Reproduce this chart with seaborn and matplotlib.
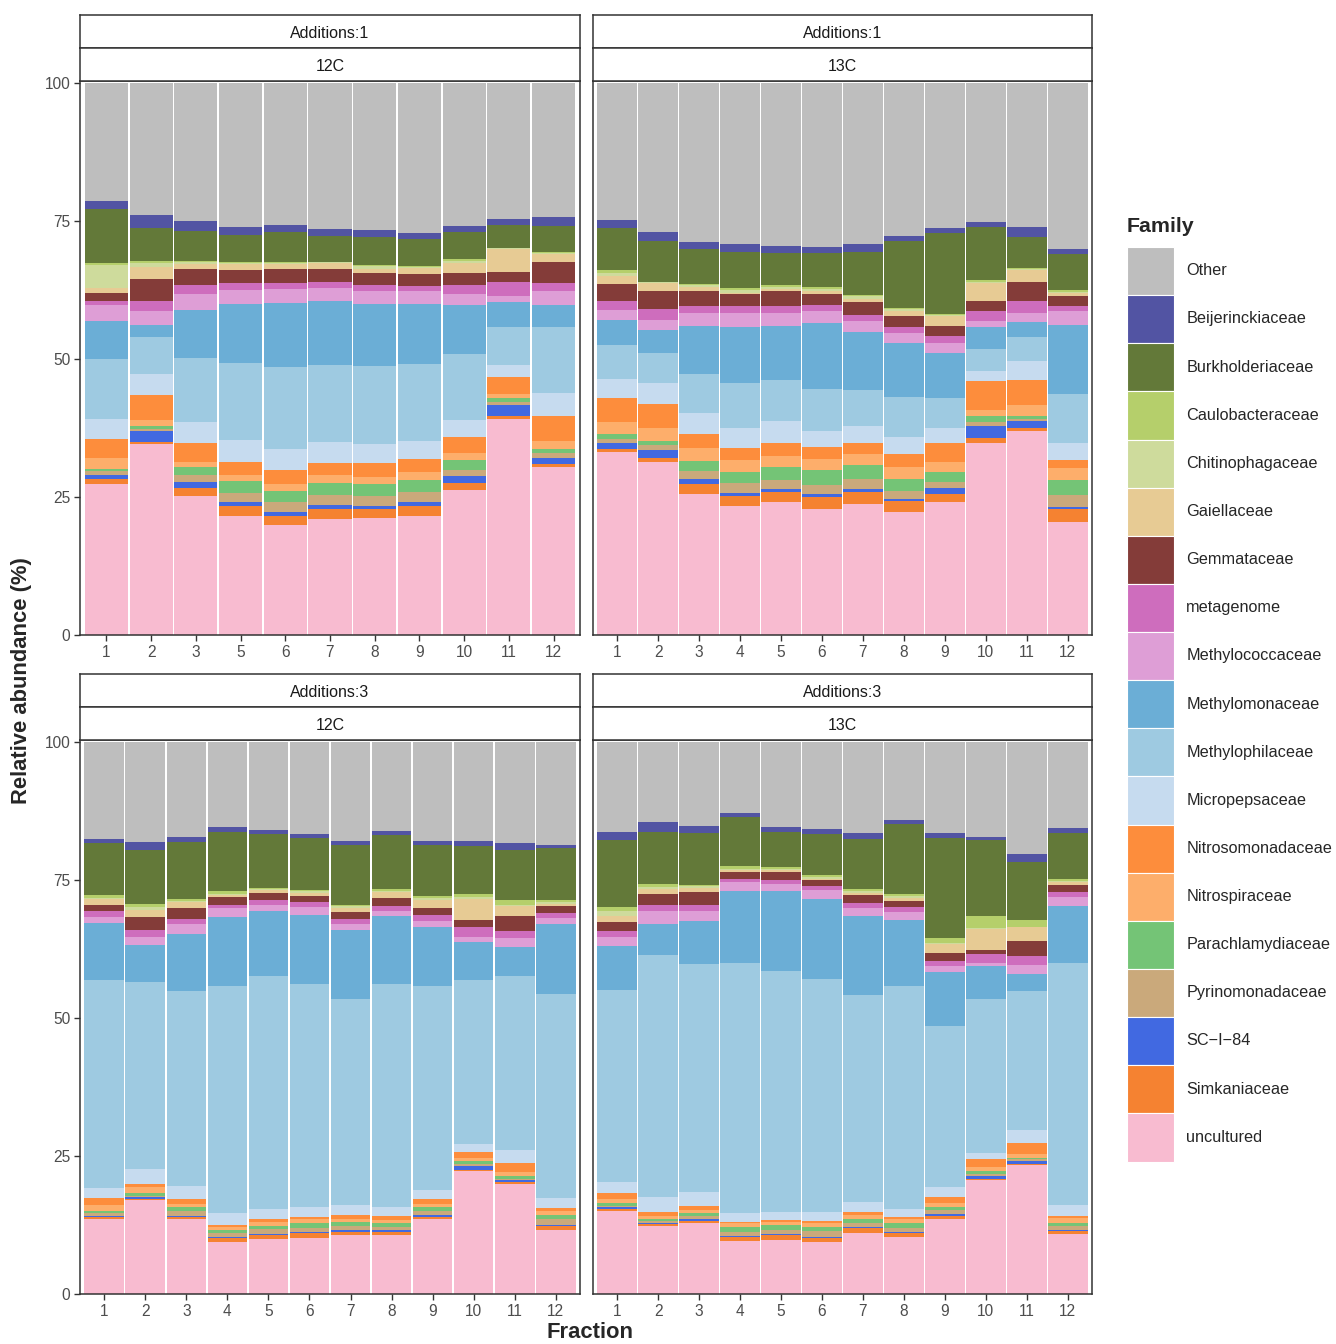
#%% libraries
import pandas as pd
import matplotlib
matplotlib.use("Agg")
import matplotlib.pyplot as plt
from matplotlib.patches import Patch
import seaborn as sns

#%% data
# stacking order, bottom of each bar first
family_order = ["uncultured", "Simkaniaceae", "SC−I−84", "Pyrinomonadaceae",
                "Parachlamydiaceae", "Nitrospiraceae", "Nitrosomonadaceae",
                "Micropepsaceae", "Methylophilaceae", "Methylomonaceae",
                "Methylococcaceae", "metagenome", "Gemmataceae", "Gaiellaceae",
                "Chitinophagaceae", "Caulobacteraceae", "Burkholderiaceae",
                "Beijerinckiaceae", "Other"]

family_colors = ["#F8BBD0", "#F58231", "#4169E1", "#CAA97B",
                 "#74C476", "#FDAE6B", "#FD8D3C",
                 "#C6DBEF", "#9ECAE1", "#6BAED6",
                 "#DE9ED6", "#CE6DBD", "#843C39", "#E7CB94",
                 "#CEDB9C", "#B5CF6B", "#637939",
                 "#5254A3", "#BEBEBE"]

# Additions:1 / 12C  (rows follow family_order)
a1_12c_fractions = [1, 2, 3, 5, 6, 7, 8, 9, 10, 11, 12]
a1_12c_values = [
    [27.3, 34.5, 25.1, 21.6, 19.9, 21.0, 21.1, 21.6, 26.3, 39.1, 30.4],
    [1.0, 0.4, 1.5, 1.8, 1.7, 1.8, 1.7, 1.8, 1.2, 0.6, 0.6],
    [0.7, 2.1, 1.1, 0.6, 0.7, 0.8, 0.6, 0.7, 1.2, 2.0, 1.1],
    [0.7, 0.3, 1.3, 1.7, 1.8, 1.7, 1.8, 1.7, 1.2, 0.5, 0.8],
    [0.4, 0.5, 1.4, 2.1, 2.0, 2.2, 2.1, 2.3, 1.7, 0.7, 0.7],
    [2.0, 1.1, 0.9, 1.2, 1.3, 1.4, 1.3, 1.4, 1.4, 0.8, 1.5],
    [3.4, 4.6, 3.4, 2.3, 2.4, 2.3, 2.6, 2.3, 2.9, 3.1, 4.5],
    [3.6, 3.8, 3.8, 4.0, 3.8, 3.8, 3.4, 3.3, 3.0, 2.1, 4.3],
    [10.8, 6.7, 11.7, 14.0, 15.0, 13.9, 14.1, 14.0, 12.0, 6.9, 11.8],
    [7.0, 2.2, 8.7, 10.6, 11.5, 11.5, 11.3, 10.9, 8.8, 4.5, 4.0],
    [2.9, 2.4, 2.8, 2.6, 2.6, 2.4, 2.3, 2.2, 2.0, 1.1, 2.6],
    [0.6, 1.8, 1.6, 1.2, 1.1, 1.1, 1.1, 1.0, 1.6, 2.5, 1.5],
    [1.5, 4.0, 2.9, 2.4, 2.4, 2.4, 2.2, 2.2, 2.3, 1.9, 3.7],
    [1.0, 2.3, 1.0, 1.0, 0.9, 1.0, 0.7, 1.0, 1.8, 4.0, 1.4],
    [4.1, 0.6, 0.4, 0.3, 0.3, 0.2, 0.5, 0.3, 0.4, 0.2, 0.2],
    [0.3, 0.5, 0.2, 0.1, 0.1, 0.1, 0.2, 0.1, 0.3, 0.1, 0.2],
    [9.8, 5.9, 5.4, 4.9, 5.4, 4.7, 5.0, 4.9, 4.8, 4.1, 4.7],
    [1.5, 2.3, 1.7, 1.5, 1.4, 1.2, 1.4, 1.1, 1.2, 1.1, 1.7],
    [21.4, 24.0, 25.1, 26.1, 25.7, 26.5, 26.6, 27.2, 25.9, 24.7, 24.3],
]

# Additions:1 / 13C
a1_13c_fractions = [1, 2, 3, 4, 5, 6, 7, 8, 9, 10, 11, 12]
a1_13c_values = [
    [33.1, 31.3, 25.5, 23.4, 24.0, 22.8, 23.8, 22.3, 24.0, 34.8, 37.0, 20.5],
    [0.6, 0.8, 1.8, 1.8, 1.9, 2.1, 2.0, 1.9, 1.5, 0.8, 0.4, 2.3],
    [1.1, 1.4, 0.9, 0.5, 0.6, 0.6, 0.6, 0.4, 1.2, 2.3, 1.4, 0.4],
    [0.6, 0.9, 1.5, 1.8, 1.6, 1.6, 1.8, 1.4, 1.0, 0.7, 0.3, 2.2],
    [0.9, 0.8, 1.8, 2.1, 2.3, 2.8, 2.5, 2.3, 1.9, 1.0, 0.6, 2.7],
    [2.3, 2.3, 2.3, 2.1, 2.0, 2.0, 2.1, 2.2, 1.7, 1.1, 1.9, 2.2],
    [4.3, 4.4, 2.6, 2.1, 2.4, 2.2, 2.0, 2.2, 3.4, 5.2, 4.6, 1.4],
    [3.4, 3.8, 3.8, 3.6, 4.0, 2.9, 3.1, 3.2, 2.7, 1.9, 3.4, 3.1],
    [6.2, 5.4, 7.1, 8.3, 7.4, 7.6, 6.4, 7.2, 5.5, 3.9, 4.3, 8.9],
    [4.6, 4.2, 8.6, 10.1, 9.7, 11.9, 10.5, 9.7, 8.1, 4.0, 2.7, 12.5],
    [1.7, 1.8, 2.4, 2.5, 2.4, 2.1, 2.0, 1.8, 1.8, 1.1, 1.7, 2.4],
    [1.7, 2.0, 1.3, 1.2, 1.3, 1.1, 1.2, 1.1, 1.3, 1.9, 2.2, 1.0],
    [3.1, 3.1, 2.6, 2.2, 2.6, 2.1, 2.2, 2.0, 1.9, 1.7, 3.5, 1.7],
    [1.4, 1.5, 0.8, 0.3, 0.4, 0.5, 0.7, 1.0, 1.7, 3.4, 2.1, 0.6],
    [0.5, 0.2, 0.3, 0.4, 0.4, 0.4, 0.4, 0.3, 0.2, 0.2, 0.2, 0.2],
    [0.5, 0.1, 0.2, 0.4, 0.4, 0.3, 0.3, 0.2, 0.2, 0.2, 0.1, 0.3],
    [7.6, 7.3, 6.4, 6.5, 5.7, 6.1, 7.8, 12.1, 14.7, 9.7, 5.6, 6.5],
    [1.5, 1.7, 1.3, 1.5, 1.3, 1.2, 1.3, 1.0, 0.9, 0.9, 1.8, 1.0],
    [24.9, 27.0, 28.8, 29.2, 29.6, 29.7, 29.3, 27.7, 26.3, 25.2, 26.2, 30.1],
]

# Additions:3 / 12C
a3_12c_fractions = [1, 2, 3, 4, 5, 6, 7, 8, 9, 10, 11, 12]
a3_12c_values = [
    [13.5, 17.0, 13.5, 9.5, 10.0, 10.2, 10.6, 10.6, 13.5, 22.2, 20.0, 11.5],
    [0.5, 0.2, 0.4, 0.7, 0.7, 0.8, 0.7, 0.7, 0.5, 0.3, 0.3, 0.9],
    [0.2, 0.4, 0.3, 0.1, 0.2, 0.2, 0.3, 0.2, 0.3, 0.7, 0.3, 0.1],
    [0.4, 0.2, 0.9, 0.7, 0.9, 0.8, 0.8, 0.6, 0.7, 0.3, 0.3, 1.1],
    [0.5, 0.4, 0.6, 0.6, 0.6, 0.8, 0.7, 0.7, 0.7, 0.6, 0.4, 0.7],
    [1.1, 1.1, 0.6, 0.5, 0.6, 0.7, 0.5, 0.6, 0.6, 0.6, 0.8, 0.8],
    [1.2, 0.7, 0.9, 0.4, 0.6, 0.4, 0.7, 0.7, 0.9, 1.0, 1.6, 0.5],
    [1.8, 2.6, 2.4, 2.1, 1.8, 1.9, 1.9, 1.7, 1.7, 1.5, 2.4, 1.8],
    [37.7, 33.8, 35.2, 41.2, 42.2, 40.4, 37.2, 40.3, 36.9, 29.6, 31.4, 36.9],
    [10.3, 6.7, 10.4, 12.4, 11.7, 12.4, 12.5, 12.3, 10.6, 6.9, 5.3, 12.6],
    [1.0, 1.6, 1.7, 1.7, 1.2, 1.4, 1.1, 1.0, 1.2, 1.0, 1.6, 1.1],
    [1.1, 1.2, 1.0, 0.6, 0.9, 0.9, 0.9, 0.9, 1.1, 1.8, 1.4, 1.0],
    [1.2, 2.4, 2.0, 1.3, 1.2, 1.1, 1.2, 1.4, 1.2, 1.3, 2.6, 1.2],
    [1.0, 1.3, 1.0, 0.5, 0.5, 0.6, 0.8, 1.0, 1.5, 3.8, 1.9, 0.4],
    [0.2, 0.4, 0.2, 0.2, 0.2, 0.3, 0.3, 0.2, 0.3, 0.2, 0.2, 0.3],
    [0.6, 0.6, 0.4, 0.4, 0.2, 0.3, 0.3, 0.4, 0.3, 0.7, 0.9, 0.4],
    [9.3, 9.8, 10.3, 10.8, 9.7, 9.3, 10.7, 9.8, 9.3, 8.6, 9.0, 9.4],
    [0.7, 1.5, 1.0, 0.9, 0.8, 0.8, 0.8, 0.7, 0.8, 0.9, 1.2, 0.6],
    [17.7, 18.1, 17.2, 15.4, 16.0, 16.7, 18.0, 16.2, 17.9, 18.0, 18.4, 18.7],
]

# Additions:3 / 13C
a3_13c_fractions = [1, 2, 3, 4, 5, 6, 7, 8, 9, 10, 11, 12]
a3_13c_values = [
    [15.1, 12.3, 12.9, 9.6, 9.8, 9.5, 11.1, 10.3, 13.6, 20.6, 23.3, 10.8],
    [0.3, 0.3, 0.4, 0.8, 0.9, 0.7, 0.8, 0.8, 0.5, 0.3, 0.3, 0.6],
    [0.4, 0.2, 0.3, 0.1, 0.1, 0.2, 0.2, 0.1, 0.4, 0.4, 0.5, 0.1],
    [0.2, 0.5, 0.6, 0.8, 0.8, 1.0, 0.7, 0.8, 0.7, 0.4, 0.3, 0.9],
    [0.5, 0.2, 0.4, 0.8, 0.9, 0.8, 0.8, 0.8, 0.6, 0.6, 0.3, 0.5],
    [0.7, 0.7, 0.6, 0.7, 0.6, 0.6, 0.7, 0.7, 0.6, 0.7, 0.7, 0.8],
    [1.0, 0.7, 0.8, 0.2, 0.3, 0.4, 0.6, 0.5, 1.2, 1.5, 1.9, 0.5],
    [2.1, 2.7, 2.5, 1.6, 1.4, 1.6, 1.8, 1.4, 1.7, 1.0, 2.4, 1.9],
    [34.7, 43.8, 41.3, 45.4, 43.7, 42.2, 37.5, 40.4, 29.3, 27.9, 25.1, 43.9],
    [8.0, 5.6, 7.7, 12.9, 14.4, 14.5, 14.3, 12.0, 9.7, 5.9, 3.2, 10.3],
    [1.6, 2.3, 1.9, 1.7, 1.4, 1.7, 1.4, 1.4, 1.0, 0.6, 1.6, 1.6],
    [1.1, 1.2, 1.1, 0.6, 0.7, 0.7, 0.9, 0.8, 1.0, 1.6, 1.6, 0.9],
    [1.6, 1.9, 2.3, 1.2, 1.4, 1.0, 1.4, 1.1, 1.4, 0.8, 2.8, 1.3],
    [1.1, 1.0, 0.7, 0.3, 0.4, 0.3, 0.4, 0.6, 1.6, 3.8, 2.4, 0.5],
    [0.9, 0.3, 0.3, 0.3, 0.2, 0.3, 0.3, 0.3, 0.2, 0.1, 0.1, 0.2],
    [0.7, 0.6, 0.3, 0.4, 0.3, 0.3, 0.4, 0.4, 0.9, 2.3, 1.3, 0.3],
    [12.2, 9.4, 9.3, 8.9, 6.4, 7.5, 9.0, 12.7, 18.1, 13.7, 10.4, 8.4],
    [1.5, 1.7, 1.3, 0.7, 0.8, 0.8, 1.1, 0.8, 0.9, 0.6, 1.5, 0.8],
    [16.3, 14.6, 15.3, 13.0, 15.5, 15.9, 16.6, 14.1, 16.6, 17.2, 20.3, 15.7],
]

#%% style
sns.set_theme(style="white")
plt.rcParams["font.family"] = ["Liberation Sans", "DejaVu Sans"]
FIG_W, FIG_H = 1336, 1344
border_col = "#333333"


def long_table(fractions, values):
    # one row per fraction/family, plus the running top of the stack
    rows = []
    for fi, frac in enumerate(fractions):
        running = 0.0
        for fam, series in zip(family_order, values):
            running += series[fi]
            rows.append({"Fraction": str(frac), "Family": fam,
                         "Abundance": series[fi], "Top": running})
    return pd.DataFrame(rows)


def px_box(x0, y0, x1, y1):
    return [x0 / FIG_W, 1 - y1 / FIG_H, (x1 - x0) / FIG_W, (y1 - y0) / FIG_H]


def add_strip(fig, x0, y0, x1, y1, label):
    sax = fig.add_axes(px_box(x0, y0, x1, y1))
    sax.set_xticks([])
    sax.set_yticks([])
    sax.set_facecolor("white")
    for sp in sax.spines.values():
        sp.set_color(border_col)
        sp.set_linewidth(1.1)
    sax.text(0.5, 0.45, label, ha="center", va="center", fontsize=11.5,
             color="#1A1A1A", transform=sax.transAxes)


def draw_panel(fig, box, fractions, values, add_label, carbon, show_y):
    x0, y0, x1, y1 = box
    ax = fig.add_axes(px_box(x0, y0, x1, y1))
    df = long_table(fractions, values)
    order = [str(f) for f in fractions]
    # draw tallest (top of stack) first, lower families painted over it
    for fam, col in reversed(list(zip(family_order, family_colors))):
        sub = df[df["Family"] == fam]
        sns.barplot(data=sub, x="Fraction", y="Top", order=order, color=col,
                    saturation=1, width=0.965, linewidth=0, errorbar=None, ax=ax)
    n = len(fractions)
    ax.set_xlim(-0.59, n - 0.41)
    ax.set_ylim(0, 100.3)
    ax.set_xlabel("")
    ax.set_ylabel("")
    ax.set_yticks([0, 25, 50, 75, 100])
    ax.tick_params(axis="both", length=4, width=1, color=border_col,
                   labelsize=11.2, labelcolor="#4D4D4D", pad=3,
                   bottom=True, left=show_y, labelleft=show_y)
    for sp in ax.spines.values():
        sp.set_visible(True)
        sp.set_color(border_col)
        sp.set_linewidth(1.1)
    add_strip(fig, x0, y0 - 66, x1, y0 - 33, f"Additions:{add_label}")
    add_strip(fig, x0, y0 - 33, x1, y0, carbon)
    return ax


#%% figure
fig = plt.figure(figsize=(FIG_W / 100, FIG_H / 100), dpi=100)

draw_panel(fig, (80, 81, 580, 635), a1_12c_fractions, a1_12c_values, 1, "12C", True)
draw_panel(fig, (593, 81, 1092, 635), a1_13c_fractions, a1_13c_values, 1, "13C", False)
draw_panel(fig, (80, 740, 580, 1294), a3_12c_fractions, a3_12c_values, 3, "12C", True)
draw_panel(fig, (593, 740, 1092, 1294), a3_13c_fractions, a3_13c_values, 3, "13C", False)

fig.text(22 / FIG_W, 1 - 681 / FIG_H, "Relative abundance (%)", rotation=90,
         ha="center", va="center", fontsize=15.8, fontweight="bold")
fig.text(590 / FIG_W, 1 - 1333 / FIG_H, "Fraction", ha="center", va="center",
         fontsize=15.8, fontweight="bold")

# legend, listed top of the stack first
handles = [Patch(facecolor=c, edgecolor="white", linewidth=0.8, label=f)
           for f, c in reversed(list(zip(family_order, family_colors)))]
fig.text(1127 / FIG_W, 1 - 226 / FIG_H, "Family", ha="left", va="center",
         fontsize=15.4, fontweight="bold")
fig.legend(handles=handles, loc="upper left",
           bbox_to_anchor=(1127 / FIG_W, 1 - 247 / FIG_H),
           frameon=False, fontsize=11.7, handlelength=2.89, handleheight=4.18,
           labelspacing=0, handletextpad=0.75, borderpad=0, borderaxespad=0)

fig.savefig("out.png", dpi=100)
